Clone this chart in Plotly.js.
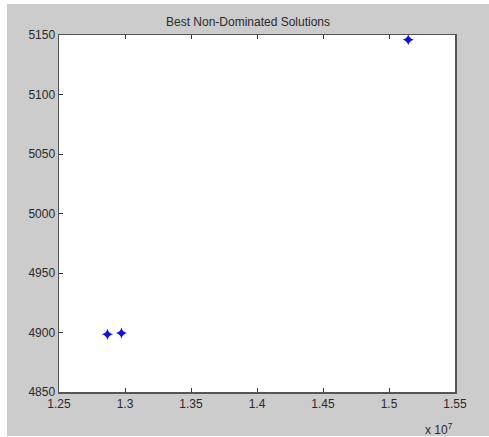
<!DOCTYPE html>
<html><head><meta charset="utf-8">
<script src="https://cdn.plot.ly/plotly-3.0.1.min.js"></script>
<style>
html,body{margin:0;padding:0;background:#ffffff;width:489px;height:437px;overflow:hidden;}
#chart{position:absolute;left:7px;top:4px;width:482px;height:432px;}
</style></head><body>
<div id="chart"></div>
<script>
const xValues = [1.2867e7, 1.2973e7, 1.5146e7];
const yValues = [4898.5, 4899.5, 5146];
const xTickVals = [1.25e7, 1.30e7, 1.35e7, 1.40e7, 1.45e7, 1.50e7, 1.55e7];
const xTickText = ["1.25", "1.3", "1.35", "1.4", "1.45", "1.5", "1.55"];
const yTickVals = [4850, 4900, 4950, 5000, 5050, 5100, 5150];

const font = {family: "Liberation Sans, Arial, sans-serif", size: 12, color: "#2a2a2a"};
Plotly.newPlot("chart", [{
  x: xValues, y: yValues, type: "scatter", mode: "markers",
  marker: {symbol: "star-diamond", size: 8, color: "#1010f0", line: {color: "#1010f0", width: 0}},
  hoverinfo: "none"
}], {
  width: 482, height: 432,
  paper_bgcolor: "#cccccc", plot_bgcolor: "#ffffff",
  margin: {l: 52, r: 34, t: 31, b: 44},
  showlegend: false,
  font: font,
  title: {text: "Best Non-Dominated Solutions", font: {family: font.family, size: 12, color: "#2a2a2a"}, x: 0.5, xanchor: "center", y: 0.958, yanchor: "middle"},
  xaxis: {range: [1.25e7, 1.55e7], tickvals: xTickVals, ticktext: xTickText, ticks: "inside", ticklen: 4, tickcolor: "#333", showgrid: false, zeroline: false, showline: true, linecolor: "#555", linewidth: 1.5, mirror: "ticks", tickfont: font, fixedrange: true},
  yaxis: {range: [4850, 5150], tickvals: yTickVals, ticks: "inside", ticklen: 4, tickcolor: "#333", showgrid: false, zeroline: false, showline: true, linecolor: "#555", linewidth: 1.5, mirror: true, tickfont: font, fixedrange: true},
  annotations: [{xref: "paper", yref: "paper", x: 1.0, y: -0.105, xanchor: "right", yanchor: "middle", showarrow: false, text: "x 10<sup>7</sup>", font: font}]
}, {staticPlot: true});
</script></body></html>
